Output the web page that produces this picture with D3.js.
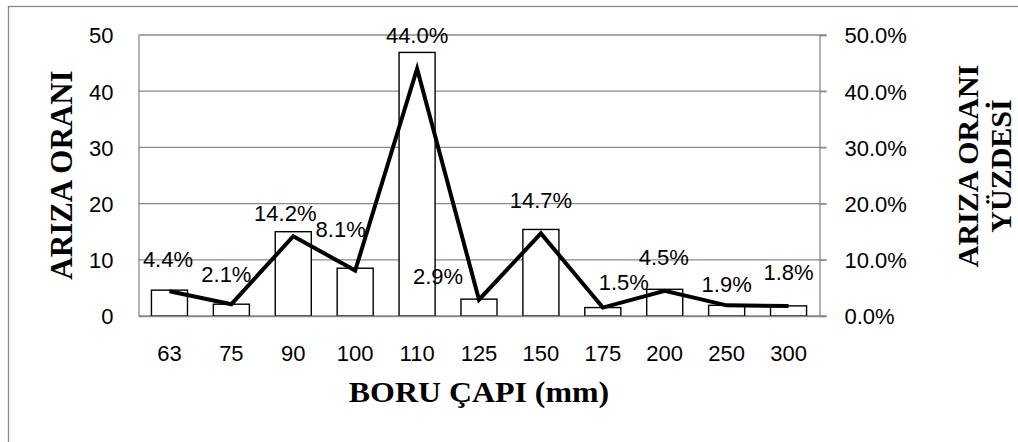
<!DOCTYPE html>
<html>
<head>
<meta charset="utf-8">
<script src="https://cdn.jsdelivr.net/npm/d3@7"></script>
<style>
  html, body { margin: 0; padding: 0; background: #fff; }
  svg { display: block; }
</style>
</head>
<body>
<svg id="chart" width="1018" height="442"></svg>
<script>
// Pipe diameters (mm)
const categories = ["63", "75", "90", "100", "110", "125", "150", "175", "200", "250", "300"];
// Failure ratio per diameter (bars, left axis)
const failureRatio = [4.6, 2.1, 15.0, 8.5, 46.9, 3.0, 15.4, 1.5, 4.75, 1.9, 1.8];
// Share of failures in percent (line, right axis)
const failurePercent = [4.4, 2.1, 14.2, 8.1, 44.0, 2.9, 14.7, 1.5, 4.5, 1.9, 1.8];
// Axis ticks
const leftTicks = [0, 10, 20, 30, 40, 50];
const rightTicks = [0, 10, 20, 30, 40, 50];

// Nudges for the percentage labels so they do not collide with the line
const labelNudge = [[-1.5, -24], [-5, -22], [-8, -15.5], [-14.5, -33], [0, -25.5], [-41, -15.5],
                    [0, -25], [21, -17.5], [-1, -25.7], [0, -13], [0, -26]];

const svg = d3.select("#chart");
const plot = { left: 138.5, right: 819.5, top: 35, bottom: 316 };
const gridColor = "#8a8a8a";
const sansFont = "'Liberation Sans', Arial, sans-serif";
const serifFont = "'Liberation Serif', 'Times New Roman', serif";

// Outer frame
svg.append("rect")
  .attr("x", 8.5).attr("y", 6.5)
  .attr("width", 1030).attr("height", 460)
  .attr("fill", "none").attr("stroke", gridColor).attr("stroke-width", 1.3);

const x = d3.scaleBand()
  .domain(categories)
  .range([plot.left, plot.right])
  .paddingInner(0.418)
  .paddingOuter(0.209);

const yLeft = d3.scaleLinear().domain([0, 50]).range([plot.bottom, plot.top]);
const yRight = d3.scaleLinear().domain([0, 50]).range([plot.bottom, plot.top]);

// Horizontal gridlines
svg.append("g")
  .selectAll("line")
  .data(leftTicks)
  .join("line")
  .attr("x1", plot.left).attr("x2", plot.right + 7)
  .attr("y1", d => yLeft(d)).attr("y2", d => yLeft(d))
  .attr("stroke", gridColor).attr("stroke-width", 1.3);

// Left axis
const leftAxis = svg.append("g")
  .attr("transform", `translate(${plot.left},0)`)
  .call(d3.axisLeft(yLeft).tickValues(leftTicks).tickSize(0).tickPadding(25).tickFormat(d3.format("d")));
leftAxis.select(".domain").attr("stroke", gridColor).attr("stroke-width", 1.3);
leftAxis.selectAll("text")
  .attr("font-family", sansFont).attr("font-size", 22).attr("fill", "#000")
  .attr("dy", "0.36em");

// Right axis
const rightAxis = svg.append("g")
  .attr("transform", `translate(${plot.right},0)`)
  .call(d3.axisRight(yRight).tickValues(rightTicks).tickSize(7).tickPadding(18)
        .tickFormat(d => d3.format(".1f")(d) + "%"));
rightAxis.select(".domain").attr("stroke", gridColor).attr("stroke-width", 1.3);
rightAxis.selectAll(".tick line").attr("stroke", gridColor).attr("stroke-width", 1.3);
rightAxis.selectAll("text")
  .attr("font-family", sansFont).attr("font-size", 22).attr("fill", "#000")
  .attr("dy", "0.36em");

// Bars
svg.append("g")
  .selectAll("rect")
  .data(failureRatio)
  .join("rect")
  .attr("x", (d, i) => x(categories[i]))
  .attr("width", x.bandwidth())
  .attr("y", d => yLeft(d))
  .attr("height", d => yLeft(0) - yLeft(d))
  .attr("fill", "#fff").attr("stroke", "#000").attr("stroke-width", 1.4);

// Bottom axis
const bottomAxis = svg.append("g")
  .attr("transform", `translate(0,${plot.bottom})`)
  .call(d3.axisBottom(x).tickSize(0).tickPadding(29).tickSizeOuter(0));
bottomAxis.select(".domain").attr("stroke", gridColor).attr("stroke-width", 1.3);
bottomAxis.selectAll("text")
  .attr("font-family", sansFont).attr("font-size", 22).attr("fill", "#000");

// Percentage line
const line = d3.line()
  .x((d, i) => x(categories[i]) + x.bandwidth() / 2)
  .y(d => yRight(d));
svg.append("path")
  .datum(failurePercent)
  .attr("d", line)
  .attr("fill", "none").attr("stroke", "#000").attr("stroke-width", 4)
  .attr("stroke-linejoin", "miter").attr("stroke-linecap", "butt");

// Percentage labels
svg.append("g")
  .selectAll("text")
  .data(failurePercent)
  .join("text")
  .attr("x", (d, i) => x(categories[i]) + x.bandwidth() / 2 + labelNudge[i][0])
  .attr("y", (d, i) => yRight(d) + labelNudge[i][1])
  .attr("text-anchor", "middle")
  .attr("font-family", sansFont).attr("font-size", 22).attr("fill", "#000")
  .text(d => d3.format(".1f")(d) + "%");

// Axis titles
svg.append("text")
  .attr("transform", `translate(${(plot.left + plot.right) / 2},402) scale(1.1,1)`)
  .attr("text-anchor", "middle")
  .attr("font-family", serifFont).attr("font-weight", "bold").attr("font-size", 29)
  .text("BORU ÇAPI (mm)");

svg.append("text")
  .attr("transform", `translate(72,175) rotate(-90)`)
  .attr("text-anchor", "middle")
  .attr("font-family", serifFont).attr("font-weight", "bold").attr("font-size", 31)
  .text("ARIZA ORANI");

const rightTitle = svg.append("text")
  .attr("transform", `translate(978,166) rotate(-90)`)
  .attr("text-anchor", "middle")
  .attr("font-family", serifFont).attr("font-weight", "bold").attr("font-size", 30);
rightTitle.append("tspan").attr("x", 0).attr("y", 0).text("ARIZA ORANI");
rightTitle.append("tspan").attr("x", 0).attr("y", 33).text("YÜZDESİ");
</script>
</body>
</html>
